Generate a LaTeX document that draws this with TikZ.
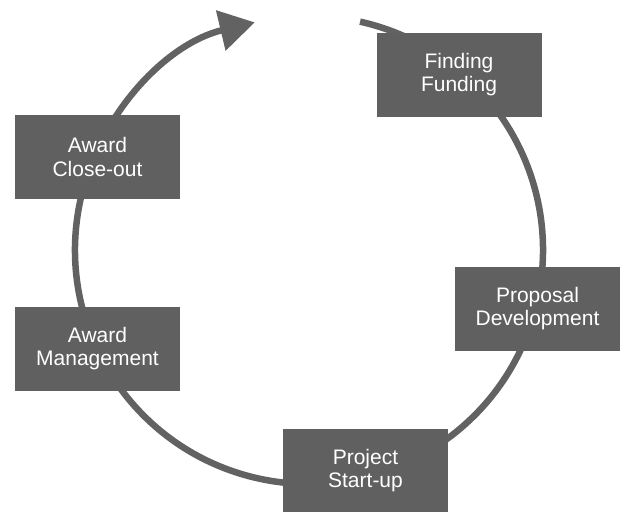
\documentclass[tikz,border=0pt]{standalone}
\usepackage{fontspec}
\setmainfont{Liberation Sans}
\usetikzlibrary{arrows.meta}
\definecolor{boxgray}{HTML}{606060}
\definecolor{arcgray}{HTML}{626262}
\begin{document}
\begin{tikzpicture}[x=1pt,y=-1pt,
  stagebox/.style={fill=boxgray, draw=none, text=white, minimum width=165pt, minimum height=84pt,
    inner sep=0pt, align=center, font=\fontsize{21}{23.5}\selectfont},
  cyclearc/.style={draw=arcgray, line width=6.5pt, -{Triangle[length=35pt,width=40pt]}}]
\useasboundingbox (0,0) rectangle (622,512);
\coordinate (c) at (309,250);
\draw[cyclearc] ([shift={(77.4:234pt)}]c) arc[start angle=77.4, end angle=-256.6, radius=234pt];
\node[stagebox] (fund) at (459,74.5) {Finding\\Funding};
\node[stagebox] (prop) at (537.5,308.5) {Proposal\\Development};
\node[stagebox] (start) at (365.5,470.5) {Project\\Start-up};
\node[stagebox] (mgmt) at (97.5,348.5) {Award\\Management};
\node[stagebox] (close) at (97.5,157) {Award\\Close-out};
\end{tikzpicture}
\end{document}
